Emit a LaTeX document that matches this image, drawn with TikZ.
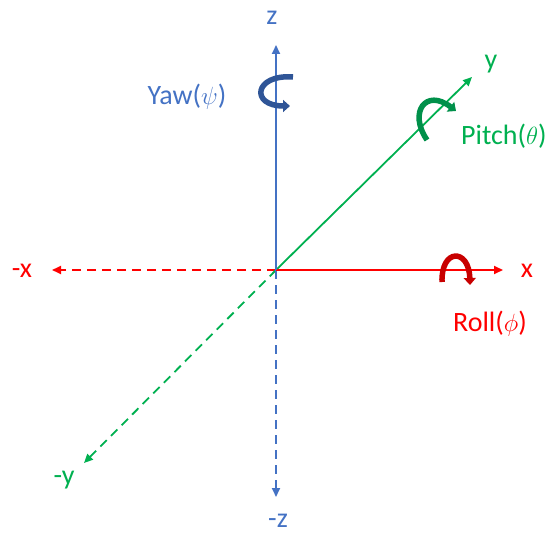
\documentclass[tikz,border=0pt]{standalone}
\usepackage{fontspec}
\setmainfont{Carlito}
\usetikzlibrary{arrows.meta}
\definecolor{axblue}{HTML}{4472C4}
\definecolor{axred}{HTML}{FF0000}
\definecolor{axgreen}{HTML}{00B050}
\definecolor{rotblue}{HTML}{2F5597}
\definecolor{rotred}{HTML}{C80000}
\definecolor{rotgreen}{HTML}{00904A}
\begin{document}
\begin{tikzpicture}[x=1pt,y=-1pt,
  axis/.style={line width=1.8pt,-{Triangle[length=9pt,width=8pt]}},
  negaxis/.style={axis,dash pattern=on 9pt off 6pt},
  rot/.style={line width=5.5pt,-{Triangle[length=7pt,width=12pt]}},
  lbl/.style={font=\fontsize{28}{32}\selectfont,inner sep=0pt}]
\useasboundingbox (0,0) rectangle (548,537);
\coordinate (O) at (276,270);
\coordinate (zp) at (276,45);
\coordinate (zn) at (276,497);
\coordinate (xp) at (503,270);
\coordinate (xn) at (52,270);
\coordinate (yp) at (472,77);
\coordinate (yn) at (84,463);
% negative axes
\draw[negaxis,axred] (O) -- (xn);
\draw[negaxis,axgreen] (O) -- (yn);
\draw[negaxis,axblue] (O) -- (zn);
% positive axes
\draw[axis,axgreen] (O) -- (yp);
\draw[axis,axred] (O) -- (xp);
\draw[axis,axblue] (O) -- (zp);
% labels
\node[lbl,text=axblue] (lz) at (272,18) {z};
\node[lbl,text=axblue] (lnz) at (278,521) {-z};
\node[lbl,text=axred] (lx) at (527,271) {x};
\node[lbl,text=axred] (lnx) at (22,271) {-x};
\node[lbl,text=axgreen] (ly) at (491,64) {y};
\node[lbl,text=axgreen] (lny) at (64,480) {-y};
\node[lbl,text=axblue] (yaw) at (187,97) {Yaw($\psi$)};
\node[lbl,text=axgreen,anchor=west] (pitch) at (461,136) {Pitch($\theta$)};
\node[lbl,text=axred] (roll) at (490,324) {Roll($\phi$)};
% rotation arrows
\coordinate (ya) at (293,77);
\coordinate (yb) at (290,106);
\draw[rot,rotblue] (ya) .. controls (254,74) and (250,106) .. (yb);
\coordinate (ra) at (442,282);
\coordinate (rb) at (470,285);
\draw[rot,rotred] (ra) .. controls (441,248) and (469,248) .. (rb);
\coordinate (pa) at (427,140);
\coordinate (pb) at (456,111);
\draw[rot,rotgreen] (pa) .. controls (408,112) and (426,88) .. (pb);
\end{tikzpicture}
\end{document}
